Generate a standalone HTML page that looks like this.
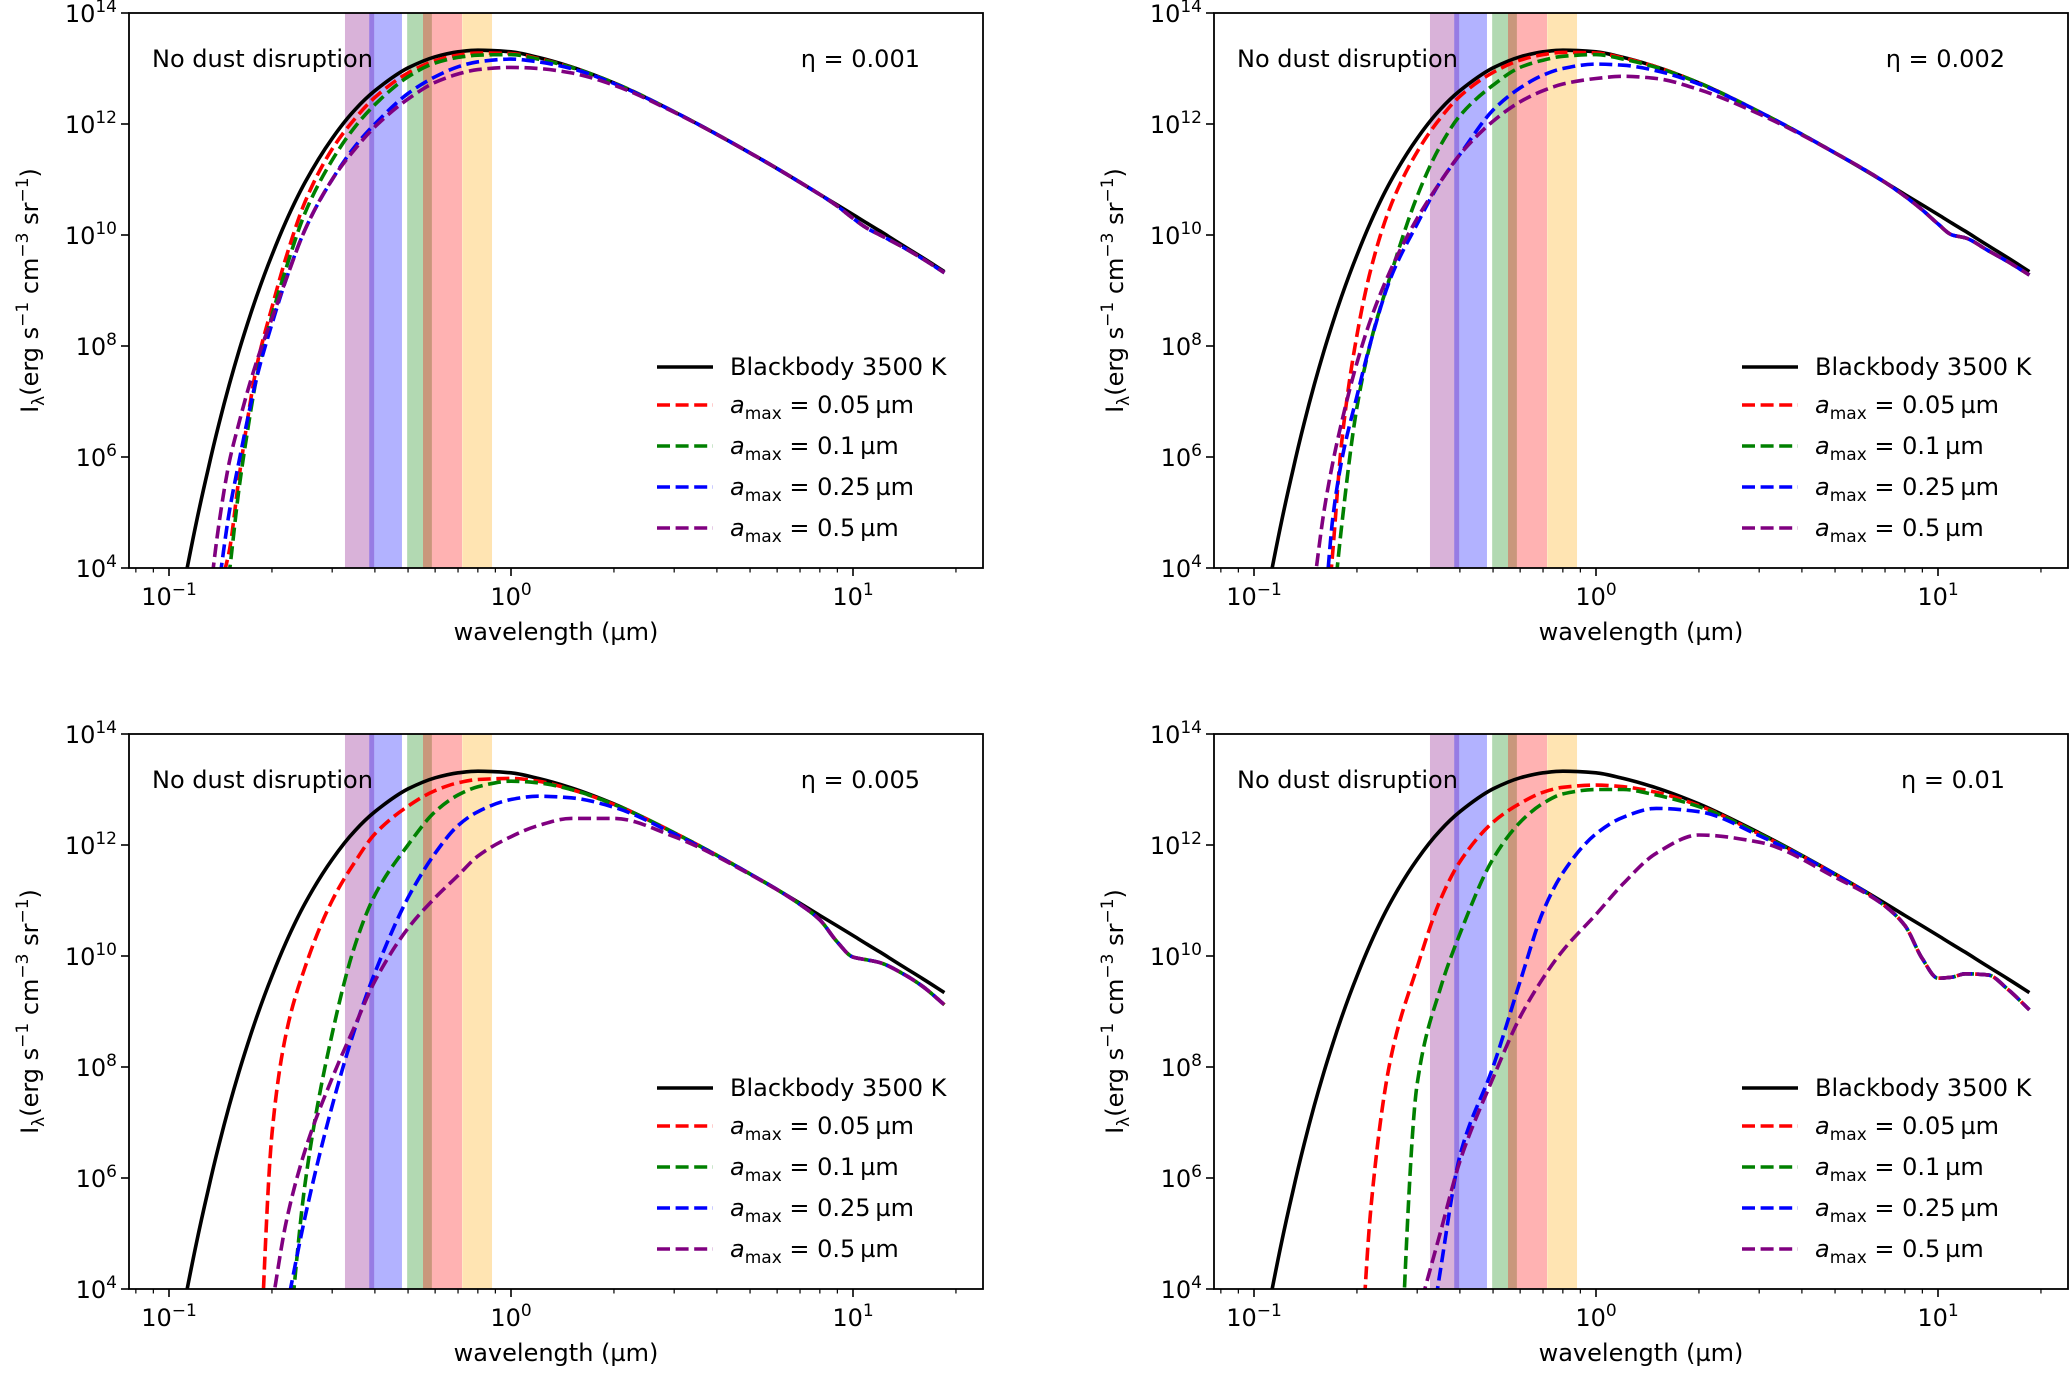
<!DOCTYPE html>
<html>
<head>
<meta charset="utf-8">
<style>
  html,body{margin:0;padding:0;background:#fff;width:2070px;height:1377px;overflow:hidden;}
  svg{display:block;}
  text{font-family:"DejaVu Sans","Liberation Sans",sans-serif;fill:#000;}
</style>
</head>
<body>
<svg id="fig" xmlns="http://www.w3.org/2000/svg" width="2070" height="1377" viewBox="0 0 2070 1377" overflow="hidden"></svg>
<script>
// ---- data ----
const wavelengths = [0.11,0.12,0.13,0.14,0.15,0.16,0.17,0.18,0.2,0.22,0.25,0.3,0.35,0.4,0.5,0.6,0.7,0.8,1.0,1.2,1.5,2,3,5,7,8,9,10,11,12,14,16,18.5];
const blackbodyLog = [3.64,4.80,5.77,6.60,7.30,7.90,8.42,8.88,9.64,10.25,10.95,11.74,12.26,12.60,13.01,13.21,13.30,13.33,13.30,13.20,13.03,12.74,12.22,11.48,10.95,10.73,10.54,10.37,10.21,10.07,9.81,9.59,9.34];

const eta1Red    = [null,null,null,3.6,4.3,5.6,6.7,7.6,8.7,9.6,10.6,11.55,12.1,12.48,12.92,13.14,13.24,13.28,13.27,13.18,13.02,12.74,12.22,11.48,10.95,10.73,10.52,10.30,10.12,10.0,9.78,9.57,9.32];
const eta1Green  = [null,null,null,2.5,3.9,5.4,6.5,7.4,8.55,9.4,10.4,11.35,11.95,12.35,12.85,13.1,13.2,13.24,13.25,13.17,13.02,12.74,12.22,11.48,10.95,10.73,10.52,10.30,10.12,10.0,9.78,9.57,9.32];
const eta1Blue   = [null,null,2.2,3.7,5.0,5.9,6.7,7.4,8.4,9.2,10.1,11.0,11.6,12.0,12.55,12.85,13.03,13.12,13.17,13.12,13.0,12.73,12.22,11.48,10.95,10.73,10.52,10.30,10.12,10.0,9.78,9.57,9.32];
const eta1Purple = [null,null,3.2,4.8,5.9,6.6,7.2,7.7,8.5,9.2,10.1,11.0,11.55,11.95,12.45,12.75,12.9,12.98,13.02,13.0,12.92,12.7,12.21,11.48,10.95,10.73,10.52,10.30,10.12,10.0,9.78,9.57,9.32];

const eta2Red    = [null,null,null,null,null,2.5,4.3,6.2,8.2,9.4,10.5,11.5,12.1,12.5,12.93,13.15,13.25,13.29,13.28,13.19,13.03,12.74,12.22,11.48,10.95,10.70,10.45,10.2,10.0,9.95,9.72,9.52,9.28];
const eta2Green  = [null,null,null,null,null,null,3.2,4.7,6.9,8.1,9.25,10.7,11.6,12.15,12.7,13.02,13.15,13.22,13.25,13.17,13.02,12.74,12.22,11.48,10.95,10.70,10.45,10.2,10.0,9.95,9.72,9.52,9.28];
const eta2Blue   = [null,null,null,null,null,3.0,4.9,5.9,7.1,8.1,9.2,10.2,10.95,11.45,12.25,12.65,12.88,13.0,13.08,13.06,12.96,12.72,12.22,11.48,10.95,10.70,10.45,10.2,10.0,9.95,9.72,9.52,9.28];
const eta2Purple = [null,null,null,null,3.7,5.0,5.9,6.6,7.7,8.5,9.35,10.3,10.95,11.45,12.05,12.4,12.6,12.72,12.82,12.86,12.82,12.62,12.18,11.48,10.95,10.70,10.45,10.2,10.0,9.95,9.72,9.52,9.28];

const eta3Red    = [null,null,null,null,null,null,null,1.0,6.8,8.6,9.8,11.0,11.7,12.2,12.7,12.98,13.12,13.18,13.2,13.15,13.0,12.73,12.22,11.48,10.93,10.65,10.25,9.98,9.93,9.88,9.68,9.45,9.12];
const eta3Green  = [null,null,null,null,null,null,null,null,null,2.5,5.9,8.6,10.2,11.1,12.0,12.6,12.9,13.05,13.15,13.12,13.0,12.73,12.22,11.48,10.93,10.65,10.25,9.98,9.93,9.88,9.68,9.45,9.12];
const eta3Blue   = [null,null,null,null,null,null,null,null,null,3.6,5.3,7.3,8.7,9.7,11.05,11.85,12.35,12.6,12.82,12.88,12.85,12.68,12.2,11.48,10.93,10.65,10.25,9.98,9.93,9.88,9.68,9.45,9.12];
const eta3Purple = [null,null,null,null,null,null,null,null,3.7,5.2,6.5,7.8,8.75,9.55,10.5,11.05,11.45,11.8,12.15,12.35,12.48,12.48,12.15,11.47,10.93,10.65,10.25,9.98,9.93,9.88,9.68,9.45,9.12];

const eta4Red    = [null,null,null,null,null,null,null,null,1.5,5.5,8.1,9.8,11.0,11.7,12.41,12.75,12.95,13.04,13.08,13.05,12.95,12.71,12.2,11.47,10.9,10.55,9.95,9.6,9.62,9.68,9.66,9.4,9.03];
const eta4Green  = [null,null,null,null,null,null,null,null,null,null,-2.0,7.7,9.4,10.4,11.75,12.41,12.75,12.92,13.0,13.0,12.9,12.69,12.2,11.47,10.9,10.55,9.95,9.6,9.62,9.68,9.66,9.4,9.03];
const eta4Blue   = [null,null,null,null,null,null,null,null,null,null,null,1.5,4.3,6.4,8.0,9.54,10.8,11.5,12.2,12.5,12.66,12.6,12.17,11.47,10.9,10.55,9.95,9.6,9.62,9.68,9.66,9.4,9.03];
const eta4Purple = [null,null,null,null,null,null,null,null,null,null,null,3.5,5.0,6.3,7.8,8.9,9.6,10.1,10.75,11.3,11.85,12.18,12.05,11.42,10.9,10.55,9.95,9.6,9.62,9.68,9.66,9.4,9.03];

const etaLabels = ['0.001','0.002','0.005','0.01'];
const bandLo = [0.327,0.385,0.497,0.553,0.72];
const bandHi = [0.398,0.48,0.587,0.719,0.88];
const bandColors = ['#800080','#0000ff','#008000','#ff0000','#ffa500'];
const xTickExps = [-1,0,1];
const yTickExps = [4,6,8,10,12,14];
const legendLabels = ['0.05','0.1','0.25','0.5'];
const seriesColors = ['#ff0000','#008000','#0000ff','#800080'];

const panelSeries = [
  [eta1Red,eta1Green,eta1Blue,eta1Purple],
  [eta2Red,eta2Green,eta2Blue,eta2Purple],
  [eta3Red,eta3Green,eta3Blue,eta3Purple],
  [eta4Red,eta4Green,eta4Blue,eta4Purple]
];

// ---- layout ----
const NS = 'http://www.w3.org/2000/svg';
const svg = document.getElementById('fig');
const offsets = [[0,0],[1085,0],[0,721],[1085,721]];
const AX = {L:129, R:983, T:13, B:568, x0:511, dec:342, ydec:55.5};

function mk(tag, attrs, parent){
  const e = document.createElementNS(NS, tag);
  for (const k in attrs) e.setAttribute(k, attrs[k]);
  (parent||svg).appendChild(e);
  return e;
}

function monotonePath(pts){
  const n = pts.length;
  if (n < 2) return '';
  const dx = [], m = [], t = new Array(n);
  for (let i = 0; i < n-1; i++) {
    dx.push(pts[i+1][0]-pts[i][0]);
    m.push((pts[i+1][1]-pts[i][1])/dx[i]);
  }
  t[0] = m[0]; t[n-1] = m[n-2];
  for (let i = 1; i < n-1; i++) {
    if (m[i-1]*m[i] <= 0) t[i] = 0;
    else {
      const w1 = 2*dx[i]+dx[i-1], w2 = dx[i]+2*dx[i-1];
      t[i] = (w1+w2)/(w1/m[i-1]+w2/m[i]);
    }
  }
  let d = 'M' + pts[0][0].toFixed(1) + ' ' + pts[0][1].toFixed(1);
  for (let i = 0; i < n-1; i++) {
    const h = dx[i]/3;
    d += ' C' + (pts[i][0]+h).toFixed(1) + ' ' + (pts[i][1]+t[i]*h).toFixed(1) + ' ' +
         (pts[i+1][0]-h).toFixed(1) + ' ' + (pts[i+1][1]-t[i+1]*h).toFixed(1) + ' ' +
         pts[i+1][0].toFixed(1) + ' ' + pts[i+1][1].toFixed(1);
  }
  return d;
}

offsets.forEach((off, p) => {
  const ox = off[0], oy = off[1];
  const xPix = lam => ox + AX.x0 + AX.dec*Math.log10(lam);
  const yPix = v => oy + AX.B - (v-4)*AX.ydec;
  const L = ox+AX.L, R = ox+AX.R, T = oy+AX.T, B = oy+AX.B;

  const g = mk('g', {});
  
  

  const clip = mk('clipPath', {id:'clip'+p}, g);
  mk('rect', {x:L, y:T, width:R-L, height:B-T}, clip);

  bandLo.forEach((lo, i) => {
    const r = mk('rect', {x:xPix(lo), y:T, width:xPix(bandHi[i])-xPix(lo), height:B-T, fill:bandColors[i], 'fill-opacity':0.3}, g);
    
    
  });

  const cg = mk('g', {'clip-path':'url(#clip'+p+')'}, g);
  function pathFor(arr){
    const pts = [];
    arr.forEach((v, i) => {
      if (v === null) return;
      pts.push([xPix(wavelengths[i]), yPix(v)]);
    });
    return monotonePath(pts);
  }
  const bb = mk('path', {d:pathFor(blackbodyLog), fill:'none', stroke:'#000', 'stroke-width':3.6, 'stroke-linejoin':'round'}, cg);
  
  
  panelSeries[p].forEach((arr, s) => {
    const pth = mk('path', {d:pathFor(arr), fill:'none', stroke:seriesColors[s], 'stroke-width':3.6, 'stroke-dasharray':'13 5.6', 'stroke-linejoin':'round'}, cg);
    
    
  });

  const fr = mk('rect', {x:L, y:T, width:R-L, height:B-T, fill:'none', stroke:'#000', 'stroke-width':1.8}, g);
  
  

  for (let e = -2; e <= 1; e++) {
    for (let m = 1; m <= 9; m++) {
      const lam = m * Math.pow(10, e);
      const x = xPix(lam);
      if (x < L || x > R) continue;
      const len = (m === 1) ? 8 : 4.5;
      mk('line', {x1:x, y1:B, x2:x, y2:B+len, stroke:'#000', 'stroke-width':(m===1?1.6:1.2)}, g);
    }
  }
  xTickExps.forEach(e => {
    const t = mk('text', {x:xPix(Math.pow(10,e)), y:B+37, 'text-anchor':'middle', 'font-size':24}, g);
    
    
    t.innerHTML = '10<tspan dy="-10" font-size="17">' + (e < 0 ? '\u2212' + (-e) : e) + '</tspan>';
  });
  yTickExps.forEach(e => {
    const y = yPix(e);
    mk('line', {x1:L-8, y1:y, x2:L, y2:y, stroke:'#000', 'stroke-width':1.6}, g);
    const t = mk('text', {x:L-12, y:y+9, 'text-anchor':'end', 'font-size':24}, g);
    
    
    t.innerHTML = '10<tspan dy="-10" font-size="17">' + e + '</tspan>';
  });

  const xl = mk('text', {x:(L+R)/2, y:B+72, 'text-anchor':'middle', 'font-size':24}, g);
  
  
  xl.textContent = 'wavelength (\u00b5m)';
  const yl = mk('text', {x:0, y:0, 'text-anchor':'middle', 'font-size':24, transform:'translate(' + (ox+38) + ',' + ((T+B)/2) + ') rotate(-90)'}, g);
  
  
  yl.innerHTML = 'I<tspan dy="6" font-size="17">\u03bb</tspan><tspan dy="-6">(erg s</tspan><tspan dy="-10" font-size="17">\u22121</tspan><tspan dy="10"> cm</tspan><tspan dy="-10" font-size="17">\u22123</tspan><tspan dy="10"> sr</tspan><tspan dy="-10" font-size="17">\u22121</tspan><tspan dy="10">)</tspan>';

  const nd = mk('text', {x:L+23, y:T+54, 'font-size':24}, g);
  
  
  nd.textContent = 'No dust disruption';
  const et = mk('text', {x:L+791, y:T+54, 'text-anchor':'end', 'font-size':24}, g);
  
  
  et.textContent = '\u03b7 = ' + etaLabels[p];

  const lg = mk('g', {}, g);
  
  
  const rows = [T+354, T+392, T+433, T+474, T+515];
  const bl = mk('line', {x1:L+528, y1:rows[0], x2:L+584, y2:rows[0], stroke:'#000', 'stroke-width':3.6}, lg);
  
  
  const bt = mk('text', {x:L+601, y:rows[0]+8, 'font-size':24}, lg);
  bt.textContent = 'Blackbody 3500 K';
  legendLabels.forEach((lab, s) => {
    const y = rows[s+1];
    const ln = mk('line', {x1:L+528, y1:y, x2:L+584, y2:y, stroke:seriesColors[s], 'stroke-width':3.6, 'stroke-dasharray':'13 5.6'}, lg);
    
    
    const tx = mk('text', {x:L+601, y:y+8, 'font-size':24}, lg);
    tx.innerHTML = '<tspan font-style="italic">a</tspan><tspan dy="6" font-size="17">max</tspan><tspan dy="-6"> = ' + lab + '\u2009\u00b5m</tspan>';
  });
});
</script>
</body>
</html>
